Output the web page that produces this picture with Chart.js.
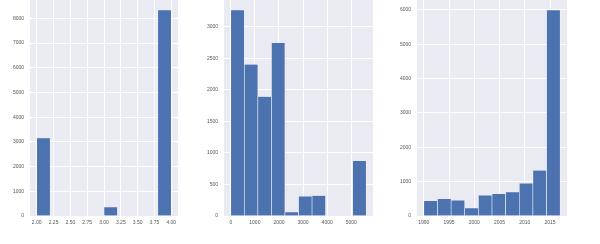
<!DOCTYPE html>
<html lang="en">
<head>
    <meta charset="UTF-8">
    <title>Histograms</title>
    <script src="https://cdn.jsdelivr.net/npm/chart.js"></script>
    <style>
        body {
            margin: 0;
            background: #fff;
            width: 600px;
            height: 244px;
            position: relative;
            overflow: hidden;
        }
        .panel {
            position: absolute;
            top: 0;
            width: 200px;
            height: 244px;
        }
    </style>
</head>
<body>
    <div class="panel" style="left:0"><canvas id="h1"></canvas></div>
    <div class="panel" style="left:200px"><canvas id="h2"></canvas></div>
    <div class="panel" style="left:400px"><canvas id="h3"></canvas></div>

    <script>
        // panel 1
        const bins1 = [2.1, 2.3, 2.5, 2.7, 2.9, 3.1, 3.3, 3.5, 3.7, 3.9];
        const counts1 = [3150, 0, 0, 0, 0, 350, 0, 0, 0, 8330];
        const xTicks1 = [2.0, 2.25, 2.5, 2.75, 3.0, 3.25, 3.5, 3.75, 4.0];
        const yTicks1 = [0, 1000, 2000, 3000, 4000, 5000, 6000, 7000, 8000];

        // panel 2
        const bins2 = [281, 843, 1405, 1967, 2529, 3091, 3653, 4215, 4777, 5339];
        const counts2 = [3260, 2400, 1890, 2740, 60, 310, 320, 0, 0, 870];
        const xTicks2 = [0, 1000, 2000, 3000, 4000, 5000];
        const yTicks2 = [0, 500, 1000, 1500, 2000, 2500, 3000];

        // panel 3
        const bins3 = [1991.35, 1994.05, 1996.75, 1999.45, 2002.15, 2004.85, 2007.55, 2010.25, 2012.95, 2015.65];
        const counts3 = [435, 494, 455, 223, 600, 639, 688, 949, 1326, 5990];
        const xTicks3 = [1990, 1995, 2000, 2005, 2010, 2015];
        const yTicks3 = [0, 1000, 2000, 3000, 4000, 5000, 6000];

        const BAR = '#4c72b0';
        const BG = '#eaeaf2';

        // paint the plot area background like seaborn darkgrid
        const plotBg = {
            id: 'plotBg',
            beforeDraw(chart) {
                const a = chart.chartArea;
                const ctx = chart.ctx;
                ctx.save();
                ctx.fillStyle = BG;
                ctx.fillRect(a.left, a.top, a.right - a.left, a.bottom - a.top);
                ctx.restore();
            }
        };

        function makeHist(id, bins, counts, xTicks, yTicks, opts) {
            new Chart(document.getElementById(id), {
                type: 'bar',
                data: {
                    datasets: [{
                        data: bins.map((b, i) => ({ x: b, y: counts[i] })),
                        backgroundColor: BAR,
                        borderColor: 'rgba(255,255,255,0.8)',
                        borderWidth: { left: 0.6, right: 0.6, top: 0, bottom: 0 },
                        borderSkipped: false,
                        barPercentage: 1,
                        categoryPercentage: 1,
                    }],
                },
                options: {
                    responsive: true,
                    maintainAspectRatio: false,
                    animation: false,
                    layout: { padding: { left: 0, top: 0, right: opts.padRight, bottom: 0 } },
                    plugins: { legend: { display: false }, tooltip: { enabled: false } },
                    scales: {
                        x: {
                            type: 'linear',
                            offset: false,
                            min: opts.xMin,
                            max: opts.xMax,
                            grid: { color: '#ffffff', lineWidth: 1, drawTicks: false, offset: false },
                            border: { display: false },
                            ticks: {
                                color: '#555',
                                font: { family: 'Liberation Sans', size: 5 },
                                padding: 4,
                                maxRotation: 0,
                                autoSkip: false,
                                callback: opts.fmt,
                            },
                            afterBuildTicks(s) { s.ticks = xTicks.map(v => ({ value: v })); },
                            afterFit(s) { s.height = 28; s.paddingLeft = 0; s.paddingRight = 0; },
                        },
                        y: {
                            min: 0,
                            max: opts.yMax,
                            grid: { color: '#ffffff', lineWidth: 1, drawTicks: false },
                            border: { display: false },
                            ticks: {
                                color: '#555',
                                font: { family: 'Liberation Sans', size: 5 },
                                padding: 6,
                                callback: v => String(v),
                            },
                            afterBuildTicks(s) { s.ticks = yTicks.map(v => ({ value: v })); },
                            afterFit(s) { s.width = opts.yWidth; s.paddingTop = 0; s.paddingBottom = 0; },
                        },
                    },
                },
                plugins: [plotBg],
            });
        }

        makeHist('h1', bins1, counts1, xTicks1, yTicks1, {
            xMin: 1.9, xMax: 4.1, yMax: 8746, yWidth: 30, padRight: 22,
            fmt: v => v.toFixed(2),
        });
        makeHist('h2', bins2, counts2, xTicks2, yTicks2, {
            xMin: -281, xMax: 5901, yMax: 3423, yWidth: 24, padRight: 27,
            fmt: v => String(v),
        });
        makeHist('h3', bins3, counts3, xTicks3, yTicks3, {
            xMin: 1988.65, xMax: 2018.35, yMax: 6290, yWidth: 17, padRight: 33,
            fmt: v => String(v),
        });
    </script>
</body>
</html>
